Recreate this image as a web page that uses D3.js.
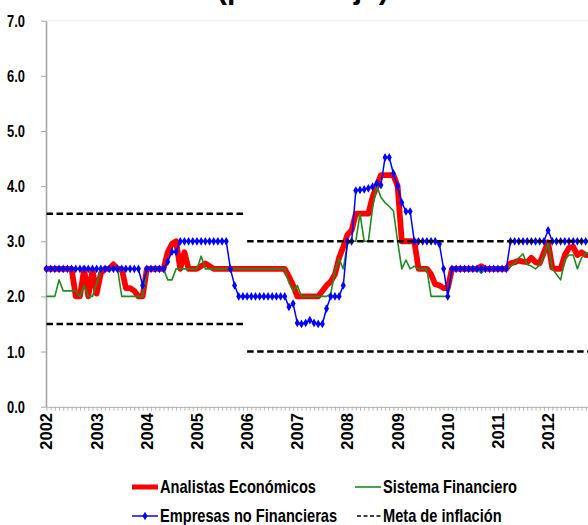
<!DOCTYPE html>
<html>
<head>
<meta charset="utf-8">
<script src="https://cdn.jsdelivr.net/npm/d3@7"></script>
<style>
  html, body { margin: 0; padding: 0; background: #ffffff; }
  svg { display: block; }
</style>
</head>
<body>
<svg id="chart" width="588" height="525"></svg>
<script>
// Monthly inflation expectations, January 2002 onwards (percent)
const startYear = 2002;
const yearLabels = ["2002", "2003", "2004", "2005", "2006", "2007", "2008", "2009", "2010", "2011", "2012"];
const yTicks = [0, 1, 2, 3, 4, 5, 6, 7];

const analistas = [
  2.5, 2.5, 2.5, 2.5, 2.5, 2.5, 2.5, 2.0, 2.0, 2.5, 2.0, 2.48,
  2.05, 2.42, 2.5, 2.5, 2.58, 2.5, 2.5, 2.15, 2.15, 2.1, 2.0, 2.0,
  2.5, 2.5, 2.5, 2.5, 2.5, 2.8, 2.95, 3.0, 2.5, 2.8, 2.5, 2.5,
  2.5, 2.55, 2.6, 2.55, 2.5, 2.5, 2.5, 2.5, 2.5, 2.5, 2.5, 2.5,
  2.5, 2.5, 2.5, 2.5, 2.5, 2.5, 2.5, 2.5, 2.5, 2.5, 2.36, 2.2,
  2.0, 2.0, 2.0, 2.0, 2.0, 2.0, 2.1, 2.2, 2.27, 2.4, 2.7, 2.9,
  3.12, 3.2, 3.5, 3.5, 3.5, 3.5, 3.8, 4.0, 4.2, 4.2, 4.2, 4.2,
  4.0, 3.0, 3.0, 3.0, 3.0, 2.5, 2.5, 2.5, 2.4, 2.22, 2.2, 2.15,
  2.15, 2.5, 2.5, 2.5, 2.5, 2.5, 2.5, 2.5, 2.55, 2.5, 2.5, 2.5,
  2.5, 2.5, 2.5, 2.6, 2.62, 2.65, 2.63, 2.62, 2.7, 2.62, 2.6, 2.8,
  2.98, 2.52, 2.5, 2.5, 2.75, 2.88, 2.9, 2.75, 2.8, 2.75, 2.75
];

const sistemaFinanciero = [
  2.0, 2.0, 2.0, 2.3, 2.1, 2.1, 2.1, 2.1, 2.0, 2.2, 2.0, 2.0,
  2.24, 2.49, 2.5, 2.5, 2.5, 2.5, 2.0, 2.0, 2.0, 2.0, 2.0, 2.0,
  2.5, 2.5, 2.5, 2.5, 2.5, 2.3, 2.3, 2.5, 2.5, 2.5, 2.5, 2.5,
  2.5, 2.73, 2.5, 2.5, 2.5, 2.5, 2.5, 2.5, 2.5, 2.5, 2.5, 2.5,
  2.5, 2.5, 2.5, 2.5, 2.5, 2.5, 2.5, 2.5, 2.5, 2.5, 2.25, 2.1,
  2.2, 2.0, 2.0, 2.0, 2.0, 2.0, 2.0, 2.0, 2.05, 2.45, 2.68, 2.5,
  2.95, 3.0, 3.0, 3.5, 3.0, 3.0, 3.6, 4.0, 3.8, 3.7, 3.63, 3.55,
  3.0, 2.5, 2.66, 2.5, 2.55, 2.5, 2.5, 2.5, 2.0, 2.0, 2.0, 2.0,
  2.0, 2.5, 2.5, 2.5, 2.5, 2.5, 2.5, 2.5, 2.42, 2.5, 2.5, 2.5,
  2.5, 2.5, 2.5, 2.55, 2.6, 2.7, 2.77, 2.58, 2.55, 2.5, 2.57, 2.75,
  2.96, 2.5, 2.4, 2.3, 2.66, 2.75, 2.75, 2.5, 2.7, 2.78, 2.8
];

const empresasNoFinancieras = [
  2.5, 2.5, 2.5, 2.5, 2.5, 2.5, 2.5, 2.5, 2.5, 2.5, 2.5, 2.5,
  2.5, 2.5, 2.5, 2.5, 2.5, 2.5, 2.5, 2.5, 2.5, 2.5, 2.5, 2.2,
  2.5, 2.5, 2.5, 2.5, 2.5, 2.63, 2.81, 2.81, 3.0, 3.0, 3.0, 3.0,
  3.0, 3.0, 3.0, 3.0, 3.0, 3.0, 3.0, 3.0, 2.5, 2.2, 2.0, 2.0,
  2.0, 2.0, 2.0, 2.0, 2.0, 2.0, 2.0, 2.0, 2.0, 2.0, 1.81, 1.87,
  1.52, 1.5, 1.52, 1.57, 1.52, 1.5, 1.5, 1.78, 2.0, 2.0, 2.0, 2.2,
  3.0, 3.0, 3.92, 3.93, 3.94, 3.96, 3.99, 4.05, 4.02, 4.52, 4.52, 4.23,
  4.0, 3.7, 3.54, 3.54, 3.0, 3.0, 3.0, 3.0, 3.0, 3.0, 2.95, 2.5,
  2.0, 2.5, 2.5, 2.5, 2.5, 2.5, 2.5, 2.5, 2.5, 2.5, 2.5, 2.5,
  2.5, 2.5, 2.5, 3.0, 3.0, 3.0, 3.0, 3.0, 3.0, 3.0, 3.0, 3.0,
  3.2, 3.0, 3.0, 3.0, 3.0, 3.0, 3.0, 3.0, 3.0, 3.0, 3.0
];

// Inflation target band: month index where each regime starts/ends, upper and lower limits
const metaStart = [0, 48];
const metaEnd = [47, 132];
const metaUpper = [3.5, 3.0];
const metaLower = [1.5, 1.0];

const svg = d3.select("#chart");
const W = 588, H = 525;
const nMonths = 132;

const x = d3.scaleLinear().domain([0, nMonths]).range([46.5, 46.5 + 4.18 * nMonths]);
const y = d3.scaleLinear().domain([0, 7]).range([406.7, 20.7]);

const wide = "'Liberation Sans', Arial, sans-serif";

// squeeze a text horizontally to a condensed look
function condense(sel, factor) {
  sel.each(function () {
    const w = this.getComputedTextLength();
    d3.select(this).attr("textLength", w * factor).attr("lengthAdjust", "spacingAndGlyphs");
  });
}

// title (second line, mostly above the visible area)
svg.append("text")
  .attr("x", 217).attr("y", -1)
  .attr("text-anchor", "start")
  .attr("font-family", wide).attr("font-weight", "bold").attr("font-size", 30)
  .text("(porcentaje)");

svg.append("defs").append("clipPath").attr("id", "plotClip")
  .append("rect").attr("x", 40).attr("y", 0).attr("width", W - 40).attr("height", 412);

// faint top border of the plot area
svg.append("line")
  .attr("x1", 46).attr("x2", W).attr("y1", y(7)).attr("y2", y(7))
  .attr("stroke", "#eeeeee").attr("stroke-width", 1);

// Y axis
const yAxis = svg.append("g")
  .attr("transform", "translate(46,0)")
  .call(d3.axisLeft(y).tickValues(yTicks).tickFormat(d3.format(".1f")).tickSize(5).tickSizeOuter(0).tickPadding(16));
yAxis.select(".domain").attr("stroke", "#a6a6a6").attr("stroke-width", 1.6);
yAxis.selectAll(".tick line").attr("stroke", "#a6a6a6").attr("stroke-width", 1);
yAxis.selectAll(".tick text")
  .attr("font-family", wide).attr("font-weight", "bold").attr("font-size", 17).attr("fill", "#000")
  .attr("text-anchor", "end")
  .call(condense, 0.76);

// X axis with monthly tick marks
const xAxis = svg.append("g")
  .attr("transform", `translate(0,${y(0)})`)
  .attr("clip-path", "url(#plotClip)")
  .call(d3.axisBottom(x).tickValues(d3.range(0, nMonths + 1)).tickFormat("").tickSize(4).tickSizeOuter(0));
xAxis.select(".domain").attr("stroke", "#a6a6a6").attr("stroke-width", 1.2);
xAxis.selectAll(".tick line").attr("stroke", "#a6a6a6").attr("stroke-width", 0.8);

// year labels, rotated
svg.append("g").selectAll("text")
  .data(yearLabels)
  .join("text")
  .attr("transform", (d, i) => `translate(${x(i * 12)},413) rotate(-90)`)
  .attr("text-anchor", "end")
  .attr("dy", "0.36em")
  .attr("font-family", wide).attr("font-weight", "bold").attr("font-size", 16.5)
  .attr("fill", "#000")
  .text(d => d);

const plot = svg.append("g").attr("clip-path", "url(#plotClip)");

const line = d3.line().x((d, i) => x(i)).y(d => y(d));

plot.append("path")
  .datum(analistas)
  .attr("fill", "none").attr("stroke", "#ff0000").attr("stroke-width", 5.8)
  .attr("stroke-linejoin", "round").attr("stroke-linecap", "round")
  .attr("d", line);

plot.append("path")
  .datum(sistemaFinanciero)
  .attr("fill", "none").attr("stroke", "#1e8c1e").attr("stroke-width", 1.6)
  .attr("stroke-linejoin", "round")
  .attr("d", line);

plot.append("path")
  .datum(empresasNoFinancieras)
  .attr("fill", "none").attr("stroke", "#0000ff").attr("stroke-width", 1.5)
  .attr("stroke-linejoin", "round")
  .attr("d", line);

const diamond = d3.symbol().type(d3.symbolDiamond).size(22);
plot.append("g").selectAll("path")
  .data(empresasNoFinancieras)
  .join("path")
  .attr("transform", (d, i) => `translate(${x(i)},${y(d)})`)
  .attr("d", diamond)
  .attr("fill", "#0000ff");

// inflation target band
const metaIdx = d3.range(metaStart.length);
[metaUpper, metaLower].forEach(level => {
  plot.append("g").selectAll("line")
    .data(metaIdx)
    .join("line")
    .attr("x1", i => x(metaStart[i])).attr("x2", i => x(metaEnd[i]))
    .attr("y1", i => y(level[i])).attr("y2", i => y(level[i]))
    .attr("stroke", "#000").attr("stroke-width", 2.4)
    .attr("stroke-dasharray", "6.5,3.5");
});

// legend
const legend = svg.append("g")
  .attr("font-family", wide).attr("font-weight", "bold").attr("font-size", 18.5).attr("fill", "#000");

const row1 = 487, row2 = 516;
legend.append("line").attr("x1", 132).attr("x2", 158).attr("y1", row1).attr("y2", row1)
  .attr("stroke", "#ff0000").attr("stroke-width", 5);
legend.append("text").attr("x", 160).attr("y", row1).attr("dy", "0.35em").text("Analistas Económicos");

legend.append("line").attr("x1", 355).attr("x2", 381).attr("y1", row1).attr("y2", row1)
  .attr("stroke", "#1e8c1e").attr("stroke-width", 1.6);
legend.append("text").attr("x", 383).attr("y", row1).attr("dy", "0.35em").text("Sistema Financiero");

legend.append("line").attr("x1", 132).attr("x2", 158).attr("y1", row2).attr("y2", row2)
  .attr("stroke", "#0000ff").attr("stroke-width", 1.5);
legend.append("path").attr("transform", `translate(145,${row2})`).attr("d", diamond).attr("fill", "#0000ff");
legend.append("text").attr("x", 160).attr("y", row2).attr("dy", "0.35em").text("Empresas no Financieras");

legend.append("line").attr("x1", 357).attr("x2", 381).attr("y1", row2).attr("y2", row2)
  .attr("stroke", "#000").attr("stroke-width", 1.6).attr("stroke-dasharray", "4,2.5");
legend.append("text").attr("x", 383).attr("y", row2).attr("dy", "0.35em").text("Meta de inflación");

legend.selectAll("text").call(condense, 0.79);
</script>
</body>
</html>
